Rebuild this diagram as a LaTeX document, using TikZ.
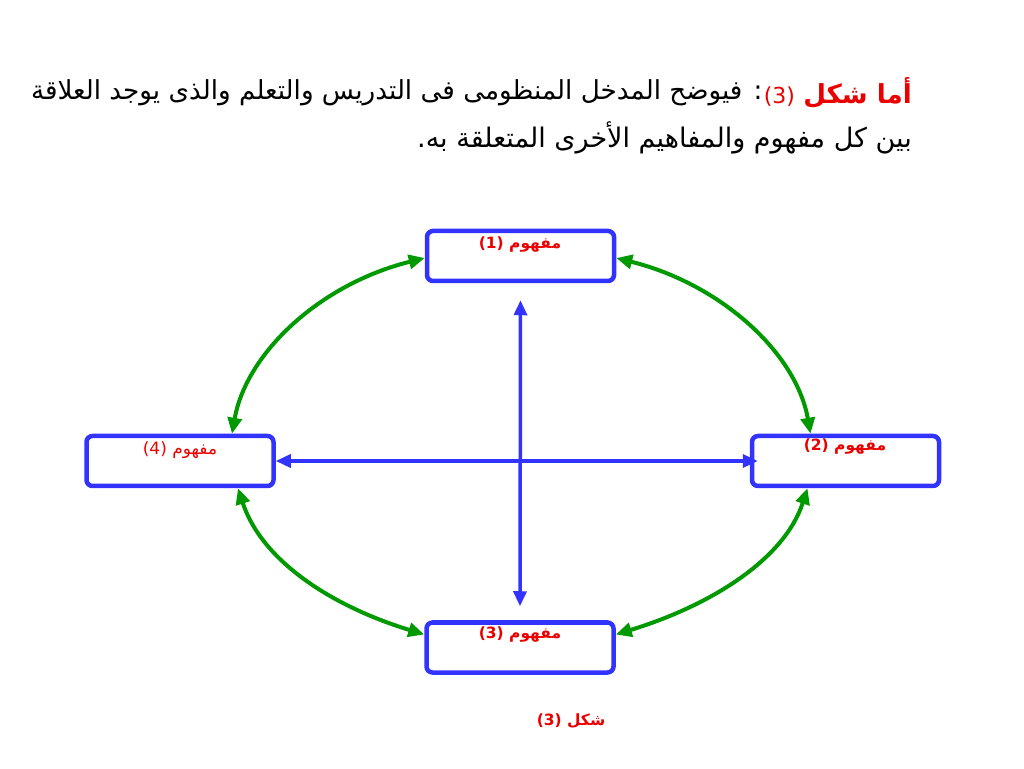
\documentclass[tikz,border=0pt]{standalone}
\usepackage{fontspec}
\usetikzlibrary{arrows.meta}
\TeXXeTstate=1
\newfontfamily\arabicfont[Script=Arabic]{DejaVu Sans}
\definecolor{boxblue}{RGB}{51,51,255}
\definecolor{arcgreen}{RGB}{0,153,0}
\definecolor{txtred}{RGB}{235,0,0}
\tikzset{
  conceptbox/.style={draw=boxblue, line width=4.5pt, rounded corners=6pt,
    minimum width=187pt, minimum height=50pt, inner sep=0pt, fill=white},
  boxlabel/.style={text=txtred, font=\arabicfont\fontsize{15.5}{18}\selectfont\bfseries, inner sep=0pt},
  boxlabelplain/.style={text=txtred, font=\arabicfont\fontsize{17}{19}\selectfont, inner sep=0pt},
  bluearrow/.style={draw=boxblue, line width=3.5pt, {Triangle[length=15pt,width=13pt]}-{Triangle[length=15pt,width=13pt]}},
  greenarrow/.style={draw=arcgreen, line width=4pt, {Triangle[length=16pt,width=14pt]}-{Triangle[length=16pt,width=14pt]}},
  titletext/.style={anchor=east, inner sep=0pt, font=\arabicfont\fontsize{26.2}{30}\selectfont}
}
\begin{document}
\begin{tikzpicture}[x=1pt,y=1pt]
\useasboundingbox (0,0) rectangle (1024,768);
% title
\node[titletext, text=txtred] (t0) at (912,675) {\beginR{\bfseries أما شكل} \beginL{\fontsize{22}{26}\selectfont(3)}\endL\endR};
\node[titletext] (t1) at ([xshift=-1pt]t0.west) {\beginR: فيوضح المدخل المنظومى فى التدريس والتعلم والذى يوجد العلاقة\endR};
\node[titletext, font=\arabicfont\fontsize{27}{30}\selectfont] (t2) at (912,630) {\beginR بين كل مفهوم والمفاهيم الأخرى المتعلقة به.\endR};
% boxes
\node[conceptbox] (b1) at (520.5,512) {};
\node[conceptbox] (b4) at (180,307) {};
\node[conceptbox] (b2) at (845.5,307) {};
\node[conceptbox] (b3) at (520,120.5) {};
% labels
\node[boxlabel] (l1) at (520,523) {\beginR مفهوم \beginL(1)\endL\endR};
\node[boxlabelplain] (l4) at (180,318) {\beginR مفهوم \beginL(4)\endL\endR};
\node[boxlabel] (l2) at (845,321) {\beginR مفهوم \beginL(2)\endL\endR};
\node[boxlabel] (l3) at (520,133) {\beginR مفهوم \beginL(3)\endL\endR};
% blue arrows
\draw[bluearrow] ([yshift=-17pt]b1.south) -- ([yshift=14pt]b3.north);
\draw[bluearrow] (b4.east) -- ([xshift=8pt]b2.west);
% green arrows
\draw[greenarrow] ([yshift=-2pt]b1.west) to[out=194,in=80,out distance=108pt,in distance=82pt] ([xshift=52pt]b4.north);
\draw[greenarrow] ([yshift=-2pt]b1.east) to[out=-14,in=100,out distance=108pt,in distance=82pt] ([xshift=-35pt]b2.north);
\draw[greenarrow] ([xshift=58pt]b4.south) to[out=288,in=163,out distance=75pt,in distance=99pt] ([yshift=13pt]b3.west);
\draw[greenarrow] ([xshift=-38pt]b2.south) to[out=252,in=17,out distance=75pt,in distance=99pt] ([yshift=13pt]b3.east);
% caption
\node[text=txtred, font=\arabicfont\fontsize{15.5}{18}\selectfont\bfseries, inner sep=0pt] (cap) at (571,47) {\beginR شكل \beginL(3)\endL\endR};
\end{tikzpicture}
\end{document}
